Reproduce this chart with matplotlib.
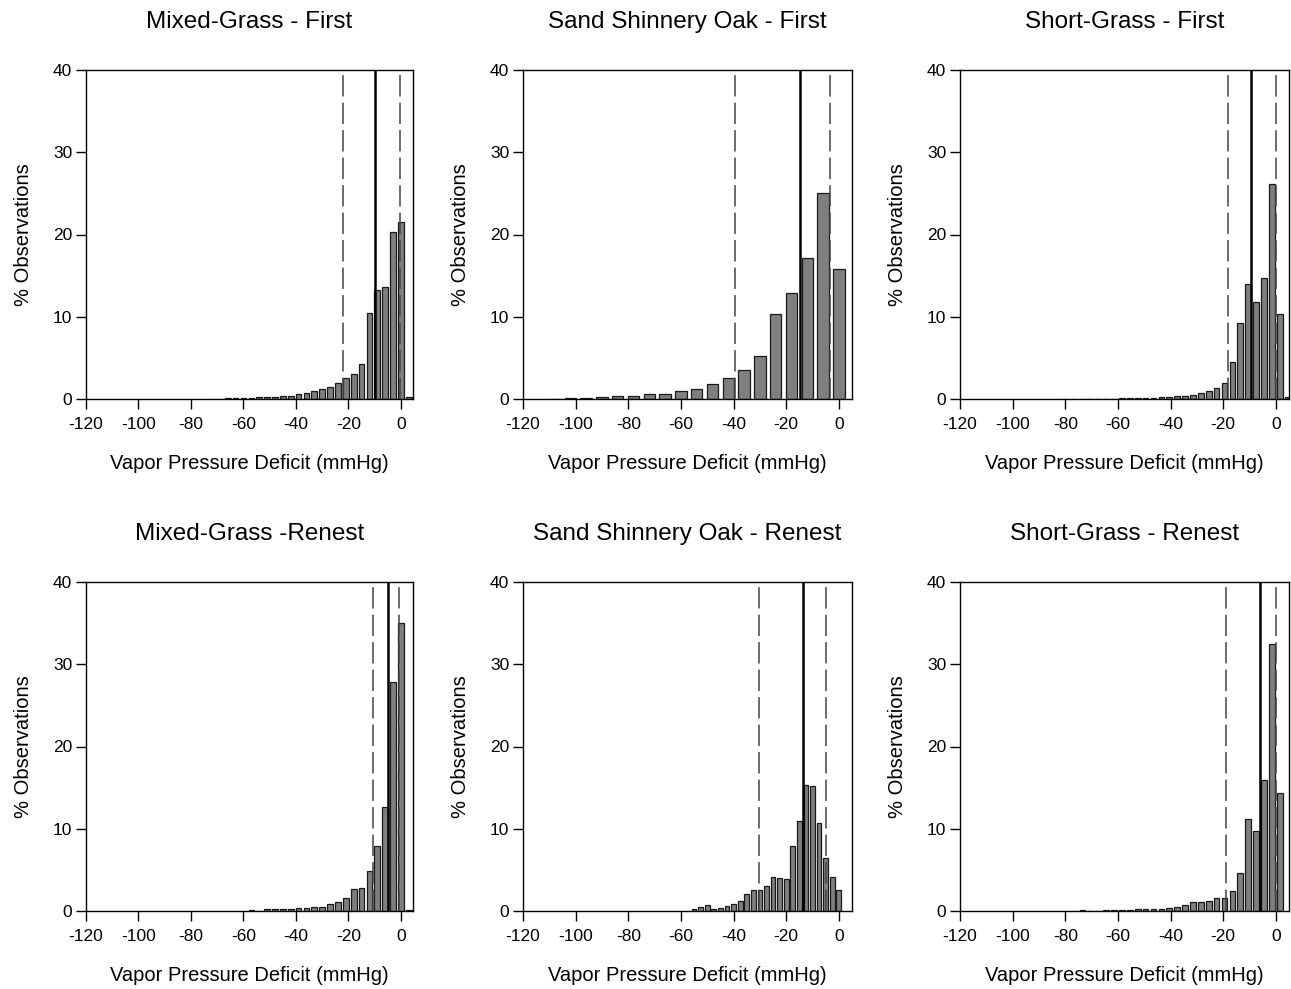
import numpy as np
import matplotlib
matplotlib.use("Agg")
import matplotlib.pyplot as plt

plt.rcParams['font.family'] = ['Liberation Sans', 'DejaVu Sans']
plt.rcParams['axes.unicode_minus'] = False

titles = ['Mixed-Grass - First', 'Sand Shinnery Oak - First', 'Short-Grass - First',
          'Mixed-Grass -Renest', 'Sand Shinnery Oak - Renest', 'Short-Grass - Renest']

# bin centres (mmHg) and % observations for each panel
mg_first_x = np.arange(-72, 4, 3)
mg_first_y = [0.05, 0.06, 0.08, 0.12, 0.13, 0.17, 0.2, 0.25, 0.3, 0.36, 0.4, 0.6, 0.73,
              0.93, 1.25, 1.5, 1.9, 2.5, 3.0, 4.3, 10.4, 13.25, 13.6, 20.3, 21.5, 0.3]

sso_first_x = np.arange(-108, 1, 6)
sso_first_y = [0.03, 0.08, 0.1, 0.2, 0.32, 0.4, 0.6, 0.65, 0.97, 1.2, 1.8, 2.6, 3.5,
               5.2, 10.3, 12.85, 17.2, 25.1, 15.8]

sg_first_x = np.arange(-82.5, 5, 3)
sg_first_y = [0.03, 0.03, 0.04, 0.04, 0.05, 0.05, 0.06, 0.06, 0.07, 0.08, 0.1, 0.12,
              0.16, 0.2, 0.24, 0.32, 0.4, 0.53, 0.69, 0.97, 1.3, 2.0, 4.46, 9.3, 14.0,
              11.8, 14.7, 26.1, 10.3, 0.2]

mg_ren_x = np.arange(-57, 4, 3)
mg_ren_y = [0.16, 0.03, 0.2, 0.2, 0.24, 0.28, 0.36, 0.4, 0.49, 0.49, 0.81, 1.13, 1.58,
            2.67, 2.75, 4.9, 7.9, 12.7, 27.9, 35.0, 0.1]

sso_ren_x = np.arange(-55, 0.1, 2.5)
sso_ren_y = [0.2, 0.53, 0.69, 0.28, 0.32, 0.61, 0.81, 1.21, 2.02, 2.5, 2.6, 3.04, 4.15,
             4.0, 3.9, 7.9, 11.0, 15.3, 15.2, 10.7, 6.5, 4.1, 2.6]

sg_ren_x = np.arange(-73.5, 2, 3)
sg_ren_y = [0.12, 0.02, 0.02, 0.12, 0.12, 0.16, 0.16, 0.2, 0.24, 0.24, 0.24, 0.4, 0.49,
            0.69, 1.05, 1.05, 1.17, 1.54, 1.62, 2.47, 4.6, 11.2, 9.76, 15.9, 32.5, 14.4]

bin_w = [3, 6, 3, 3, 2.5, 3]
# (lower dashed, solid, upper dashed) reference lines
ref_lines = [(-22, -10, -0.3), (-39.4, -14.9, -3.5), (-18.2, -9.4, 0.15),
             (-10.6, -5, -0.9), (-30.5, -13.5, -5), (-18.8, -6.2, 0)]

xs = [mg_first_x, sso_first_x, sg_first_x, mg_ren_x, sso_ren_x, sg_ren_x]
ys = [mg_first_y, sso_first_y, sg_first_y, mg_ren_y, sso_ren_y, sg_ren_y]

W, H = 1291, 989
fig = plt.figure(figsize=(W / 100, H / 100), dpi=100)

col_left = [86, 523, 960]
col_w = [327, 329, 329]
col_xmax = [4.6, 5.0, 5.0]
row_top = [70, 582]
ax_h = 329

for i in range(6):
    r, c = divmod(i, 3)
    ax = fig.add_axes([col_left[c] / W, (H - row_top[r] - ax_h) / H, col_w[c] / W, ax_h / H])
    ax.bar(xs[i], ys[i], width=bin_w[i] * 0.72, color='#7f7f7f', edgecolor='#1a1a1a',
           linewidth=0.9, zorder=2)
    lo, mid, hi = ref_lines[i]
    ax.axvline(lo, color='#444444', lw=1.1, dashes=(14, 4), zorder=3)
    ax.axvline(hi, color='#444444', lw=1.1, dashes=(14, 4), zorder=3)
    ax.axvline(mid, color='black', lw=1.8, zorder=4)
    ax.set_xlim(-120, col_xmax[c])
    ax.set_ylim(0, 40)
    ax.set_xticks([-120, -100, -80, -60, -40, -20, 0])
    ax.set_yticks([0, 10, 20, 30, 40])
    ax.tick_params(direction='out', length=7, width=1, labelsize=12.5, pad=3)
    ax.tick_params(axis='x', pad=6)
    for s in ax.spines.values():
        s.set_linewidth(1)
    ax.set_title(titles[i], fontsize=17.5, pad=30)
    ax.set_xlabel('Vapor Pressure Deficit (mmHg)', fontsize=14.5, labelpad=16)
    ax.set_ylabel('% Observations', fontsize=14.5, labelpad=14)

fig.savefig('out.png', dpi=100)
